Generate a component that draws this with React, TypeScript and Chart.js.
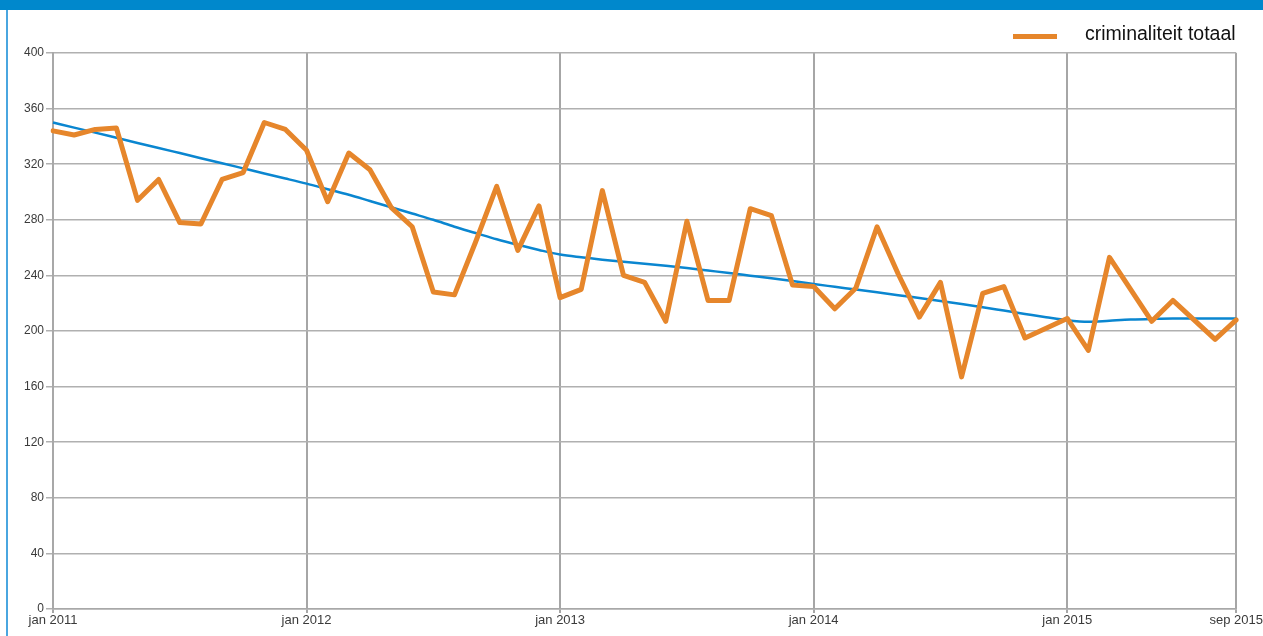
import React, { useEffect, useRef } from "react";
import { Chart, registerables } from "chart.js";

Chart.register(...registerables);

const monthNames = ["jan", "feb", "mrt", "apr", "mei", "jun", "jul", "aug", "sep", "okt", "nov", "dec"];
const years = [2011, 2012, 2013, 2014, 2015];
const lastMonthIndex2015 = 8; // sep 2015

const categories: string[] = [];
years.forEach((y) => {
  monthNames.forEach((m, mi) => {
    if (y === 2015 && mi > lastMonthIndex2015) return;
    categories.push(`${m} ${y}`);
  });
});

const criminaliteitTotaal = [
  344, 341, 345, 346, 294, 309, 278, 277, 309, 314, 350, 345,
  330, 293, 328, 316, 289, 275, 228, 226, 264, 304, 258, 290,
  224, 230, 301, 240, 235, 207, 279, 222, 222, 288, 283, 233,
  232, 216, 231, 275, 241, 210, 235, 167, 227, 232, 195, 202,
  209, 186, 253, 230, 207, 222, 208, 194, 208,
];

const trend = [
  350, 346.3, 342.7, 339, 335.3, 331.7, 328, 324.3, 320.7, 317, 313.3, 309.7,
  306, 302, 298, 293.5, 289, 284.5, 280, 275, 270.5, 266, 262, 258.3,
  255, 253, 251.3, 249.8, 248.4, 246.9, 245.3, 243.5, 241.7, 239.8, 237.9, 235.9,
  233.8, 231.8, 229.8, 227.8, 225.8, 223.7, 221.6, 219.4, 217.1, 214.7, 212.3, 209.9,
  207.7, 206.6, 207.4, 208.2, 208.7, 209, 209, 209, 209,
];

const yTicks = { min: 0, max: 400, step: 40 };
const legendLabel = "criminaliteit totaal";

const ORANGE = "#E6862B";
const BLUE = "#0A86D0";

export default function App() {
  const ref = useRef<HTMLCanvasElement | null>(null);

  useEffect(() => {
    document.body.style.margin = "0";
    document.body.style.overflow = "hidden";
    const last = categories.length - 1;
    const showTick = (i: number) => i % 12 === 0 || i === last;
    const chart = new Chart(ref.current as HTMLCanvasElement, {
      type: "line",
      data: {
        labels: categories,
        datasets: [
          {
            label: legendLabel,
            data: criminaliteitTotaal,
            borderColor: ORANGE,
            backgroundColor: ORANGE,
            borderWidth: 5,
            pointRadius: 0,
            tension: 0,
            borderJoinStyle: "round",
            borderCapStyle: "round",
          },
          {
            label: "trend",
            data: trend,
            borderColor: BLUE,
            backgroundColor: BLUE,
            borderWidth: 2.5,
            pointRadius: 0,
            cubicInterpolationMode: "monotone",
          },
        ],
      },
      options: {
        responsive: false,
        animation: false,
        layout: { padding: { top: 53, right: 26, left: 0, bottom: 0 } },
        plugins: {
          legend: { display: false },
          tooltip: { enabled: false },
          title: { display: false },
        },
        scales: {
          x: {
            type: "category",
            offset: false,
            afterFit: (s: any) => {
              s.height = 27;
            },
            grid: {
              color: (ctx: any) =>
                ctx.tick && showTick(Number(ctx.tick.value)) ? "#a6a6a6" : "rgba(0,0,0,0)",
              lineWidth: 2,
              tickLength: 4,
              drawOnChartArea: true,
            },
            border: { color: "#a8a8a8", width: 1.5 },
            ticks: {
              autoSkip: false,
              maxRotation: 0,
              minRotation: 0,
              padding: 0,
              color: "#3a3a3a",
              font: { family: "Liberation Sans, Arial, sans-serif", size: 13 },
              callback: (_v: any, i: number) => (showTick(i) ? categories[i] : ""),
            },
          },
          y: {
            min: yTicks.min,
            max: yTicks.max,
            afterFit: (s: any) => {
              s.width = 53;
            },
            grid: {
              color: "#b0b0b0",
              lineWidth: 1.5,
              tickLength: 7,
            },
            border: { color: "#a8a8a8", width: 2 },
            ticks: {
              stepSize: yTicks.step,
              padding: 2,
              color: "#3a3a3a",
              font: { family: "Liberation Sans, Arial, sans-serif", size: 12 },
            },
          },
        },
      },
    });
    return () => chart.destroy();
  }, []);

  return (
    <div style={{ position: "absolute", left: 0, top: 0, width: 1263, height: 636, background: "#fff", overflow: "hidden" }}>
      <canvas ref={ref} width={1263} height={636} style={{ position: "absolute", left: 0, top: 0 }} />
      <div style={{ position: "absolute", left: 0, top: 0, width: 1263, height: 10, background: "#0088CC" }} />
      <div style={{ position: "absolute", left: 6, top: 10, width: 2, height: 626, background: "#4AA6E0" }} />
      <div
        style={{
          position: "absolute",
          left: 1013,
          top: 22,
          display: "flex",
          alignItems: "center",
          fontFamily: "Liberation Sans, Arial, sans-serif",
          fontSize: 19.5,
          color: "#111",
          whiteSpace: "nowrap",
        }}
      >
        <span style={{ display: "inline-block", width: 44, height: 5, background: ORANGE, marginRight: 28, marginTop: 6 }} />
        <span>{legendLabel}</span>
      </div>
    </div>
  );
}
